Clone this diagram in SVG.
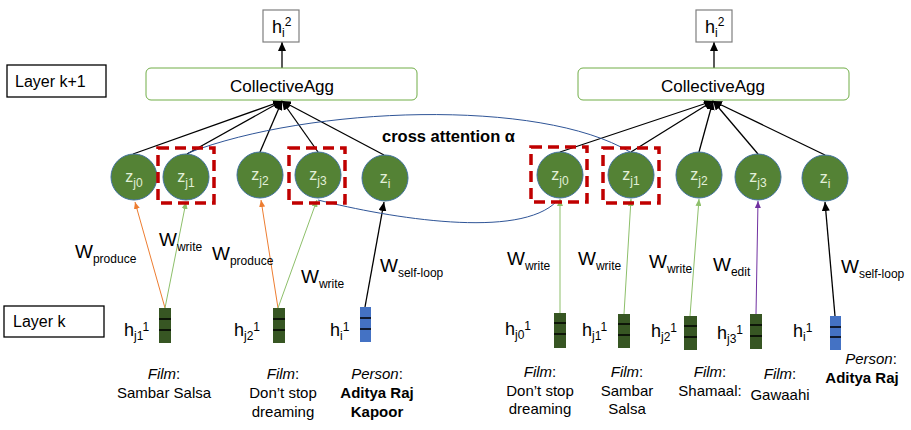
<svg xmlns="http://www.w3.org/2000/svg" width="911" height="430" viewBox="0 0 911 430">
<style>
text{font-family:"Liberation Sans",Arial,sans-serif;fill:#000}
.lbl{font-size:16px}
.agg{font-size:17px}
.w{font-size:19px}
.s{font-size:12px}
.h{font-size:18px}
.z{font-size:16px;fill:#E2F0D9}
.f{font-size:15px}
.b{font-weight:bold}
.it{font-style:italic}
.circ{fill:#548235;stroke:#41719C;stroke-width:1}
.dash{fill:none;stroke:#C00000;stroke-width:3.5;stroke-dasharray:11 6}
.aggbox{fill:#fff;stroke:#70AD47;stroke-width:1}
.hbox{fill:#fff;stroke:#7F7F7F;stroke-width:1.2}
.lbox{fill:#fff;stroke:#000;stroke-width:1.3}
.blk{stroke:#000;stroke-width:1.3;fill:none;marker-end:url(#ak)}
.org{stroke:#ED7D31;stroke-width:1;fill:none;marker-end:url(#ao)}
.grn{stroke:#8DBF6A;stroke-width:1;fill:none;marker-end:url(#ag)}
.pur{stroke:#7030A0;stroke-width:1;fill:none;marker-end:url(#ap)}
.att{stroke:#2F5597;stroke-width:1;fill:none}
.barg{fill:#375623}
.barb{fill:#4472C4}
.tick{stroke:#000;stroke-width:1.5}
</style>
<defs>
<marker id="ak" markerUnits="userSpaceOnUse" markerWidth="9" markerHeight="8" refX="9" refY="4" orient="auto"><path d="M0,0 L9,4 L0,8 z" fill="#000"/></marker>
<marker id="ao" markerUnits="userSpaceOnUse" markerWidth="7" markerHeight="6" refX="7" refY="3" orient="auto"><path d="M0,0 L7,3 L0,6 z" fill="#ED7D31"/></marker>
<marker id="ag" markerUnits="userSpaceOnUse" markerWidth="7" markerHeight="6" refX="7" refY="3" orient="auto"><path d="M0,0 L7,3 L0,6 z" fill="#8DBF6A"/></marker>
<marker id="ap" markerUnits="userSpaceOnUse" markerWidth="7" markerHeight="6" refX="7" refY="3" orient="auto"><path d="M0,0 L7,3 L0,6 z" fill="#7030A0"/></marker>
</defs>
<rect width="911" height="430" fill="#fff"/>

<g id="connectors">
<!-- left aggregation -->
<line class="blk" x1="282" y1="68" x2="282" y2="42"/>
<line class="blk" x1="133" y1="154" x2="282" y2="101"/>
<line class="blk" x1="187" y1="154" x2="282" y2="101"/>
<line class="blk" x1="260" y1="152" x2="282" y2="101"/>
<line class="blk" x1="318" y1="152" x2="282" y2="101"/>
<line class="blk" x1="384" y1="155" x2="282" y2="101"/>
<!-- right aggregation -->
<line class="blk" x1="714" y1="68" x2="714" y2="42"/>
<line class="blk" x1="560" y1="152" x2="713" y2="101"/>
<line class="blk" x1="631" y1="152" x2="713" y2="101"/>
<line class="blk" x1="699" y1="152" x2="713" y2="101"/>
<line class="blk" x1="758" y1="154" x2="713" y2="101"/>
<line class="blk" x1="825" y1="155" x2="713" y2="101"/>
<!-- left edges -->
<line class="org" x1="165" y1="308" x2="135" y2="202"/>
<line class="grn" x1="165" y1="308" x2="186" y2="202"/>
<line class="org" x1="278" y1="308" x2="261" y2="200"/>
<line class="grn" x1="278" y1="308" x2="317" y2="200"/>
<line class="blk" x1="365" y1="307" x2="384" y2="202"/>
<!-- right edges -->
<line class="grn" x1="560" y1="313" x2="560" y2="199"/>
<line class="grn" x1="624" y1="314" x2="631" y2="199"/>
<line class="grn" x1="690" y1="316" x2="699" y2="199"/>
<line class="pur" x1="756" y1="314" x2="758" y2="201"/>
<line class="blk" x1="835" y1="316" x2="825" y2="202"/>
<!-- cross attention -->
<path class="att" d="M188,153 C310,106 540,98 630,152"/>
<path class="att" d="M318,200 C390,218 520,240 557,201"/>
</g>

<g id="layer-k1"><rect class="lbox" x="7" y="65" width="99" height="32"/><text class="lbl" x="15" y="87">Layer k+1</text></g>
<g id="layer-k"><rect class="lbox" x="4" y="306" width="100" height="31"/><text class="lbl" x="13" y="327">Layer k</text></g>

<g id="h2-left"><rect class="hbox" x="263" y="10" width="36" height="32"/><text class="h" x="272" y="33">h<tspan class="s" dy="4">i</tspan><tspan class="s" dy="-11">2</tspan></text></g>
<g id="agg-left"><rect class="aggbox" x="146" y="68" width="271" height="32" rx="5"/><text class="agg" x="282" y="92" text-anchor="middle">CollectiveAgg</text></g>
<g id="h2-right"><rect class="hbox" x="696" y="10" width="36" height="32"/><text class="h" x="705" y="33">h<tspan class="s" dy="4">i</tspan><tspan class="s" dy="-11">2</tspan></text></g>
<g id="agg-right"><rect class="aggbox" x="578" y="68" width="271" height="32" rx="5"/><text class="agg" x="713" y="92" text-anchor="middle">CollectiveAgg</text></g>

<g id="cross-label"><text class="b" x="382" y="142" font-size="16.5">cross attention α</text></g>

<!-- left circles -->
<g id="zl-j0"><circle class="circ" cx="134" cy="177" r="23"/><text class="z" x="134" y="182" text-anchor="middle">z<tspan class="s" dy="5">j0</tspan></text></g>
<g id="zl-j1"><circle class="circ" cx="186" cy="177" r="23"/><rect class="dash" x="158" y="148" width="56" height="55"/><text class="z" x="186" y="182" text-anchor="middle">z<tspan class="s" dy="5">j1</tspan></text></g>
<g id="zl-j2"><circle class="circ" cx="260" cy="175" r="23"/><text class="z" x="260" y="180" text-anchor="middle">z<tspan class="s" dy="5">j2</tspan></text></g>
<g id="zl-j3"><circle class="circ" cx="318" cy="175" r="23"/><rect class="dash" x="289" y="148" width="56" height="55"/><text class="z" x="318" y="180" text-anchor="middle">z<tspan class="s" dy="5">j3</tspan></text></g>
<g id="zl-i"><circle class="circ" cx="385" cy="178" r="23"/><text class="z" x="385" y="183" text-anchor="middle">z<tspan class="s" dy="5">i</tspan></text></g>

<!-- right circles -->
<g id="zr-j0"><circle class="circ" cx="560" cy="175" r="23"/><rect class="dash" x="531" y="147" width="56" height="55"/><text class="z" x="560" y="180" text-anchor="middle">z<tspan class="s" dy="5">j0</tspan></text></g>
<g id="zr-j1"><circle class="circ" cx="631" cy="175" r="23"/><rect class="dash" x="603" y="148" width="56" height="55"/><text class="z" x="631" y="180" text-anchor="middle">z<tspan class="s" dy="5">j1</tspan></text></g>
<g id="zr-j2"><circle class="circ" cx="699" cy="175" r="23"/><text class="z" x="699" y="180" text-anchor="middle">z<tspan class="s" dy="5">j2</tspan></text></g>
<g id="zr-j3"><circle class="circ" cx="758" cy="177" r="23"/><text class="z" x="758" y="182" text-anchor="middle">z<tspan class="s" dy="5">j3</tspan></text></g>
<g id="zr-i"><circle class="circ" cx="825" cy="178" r="23"/><text class="z" x="825" y="183" text-anchor="middle">z<tspan class="s" dy="5">i</tspan></text></g>

<!-- edge labels -->
<g id="edge-labels">
<text class="w" x="75" y="258">W<tspan class="s" dy="5">produce</tspan></text>
<text class="w" x="159" y="246">W<tspan class="s" dy="5">write</tspan></text>
<text class="w" x="212" y="260">W<tspan class="s" dy="5">produce</tspan></text>
<text class="w" x="301" y="283">W<tspan class="s" dy="5">write</tspan></text>
<text class="w" x="380" y="272">W<tspan class="s" dy="5">self-loop</tspan></text>
<text class="w" x="507" y="265">W<tspan class="s" dy="5">write</tspan></text>
<text class="w" x="578" y="265">W<tspan class="s" dy="5">write</tspan></text>
<text class="w" x="649" y="268">W<tspan class="s" dy="5">write</tspan></text>
<text class="w" x="713" y="271">W<tspan class="s" dy="5">edit</tspan></text>
<text class="w" x="841" y="273">W<tspan class="s" dy="5">self-loop</tspan></text>
</g>

<!-- left layer-k nodes -->
<g id="hl-j1"><rect class="barg" x="159" y="308" width="12" height="35"/><line class="tick" x1="159" y1="319" x2="171" y2="319"/><line class="tick" x1="159" y1="330" x2="171" y2="330"/><text class="h" x="124" y="336">h<tspan class="s" dy="4">j1</tspan><tspan class="s" dy="-9">1</tspan></text>
<text class="f" x="164" y="379" text-anchor="middle"><tspan class="it">Film</tspan>:</text><text class="f" x="164" y="398" text-anchor="middle">Sambar Salsa</text></g>
<g id="hl-j2"><rect class="barg" x="273" y="308" width="12" height="35"/><line class="tick" x1="273" y1="319" x2="285" y2="319"/><line class="tick" x1="273" y1="330" x2="285" y2="330"/><text class="h" x="234" y="336">h<tspan class="s" dy="4">j2</tspan><tspan class="s" dy="-9">1</tspan></text>
<text class="f" x="283" y="379" text-anchor="middle"><tspan class="it">Film</tspan>:</text><text class="f" x="283" y="398" text-anchor="middle">Don’t stop</text><text class="f" x="283" y="417" text-anchor="middle">dreaming</text></g>
<g id="hl-i"><rect class="barb" x="360" y="307" width="11" height="35"/><line class="tick" x1="360" y1="318" x2="371" y2="318"/><line class="tick" x1="360" y1="329" x2="371" y2="329"/><text class="h" x="330" y="336">h<tspan class="s" dy="4">i</tspan><tspan class="s" dy="-9">1</tspan></text>
<text class="f" x="377" y="379" text-anchor="middle"><tspan class="it">Person</tspan>:</text><text class="f b" x="377" y="398" text-anchor="middle">Aditya Raj</text><text class="f b" x="377" y="417" text-anchor="middle">Kapoor</text></g>

<!-- right layer-k nodes -->
<g id="hr-j0"><rect class="barg" x="554" y="313" width="12" height="35"/><line class="tick" x1="554" y1="323" x2="566" y2="323"/><line class="tick" x1="554" y1="334" x2="566" y2="334"/><text class="h" x="505" y="335">h<tspan class="s" dy="4">j0</tspan><tspan class="s" dy="-9">1</tspan></text>
<text class="f" x="540" y="377" text-anchor="middle"><tspan class="it">Film</tspan>:</text><text class="f" x="540" y="396" text-anchor="middle">Don’t stop</text><text class="f" x="540" y="414" text-anchor="middle">dreaming</text></g>
<g id="hr-j1"><rect class="barg" x="618" y="314" width="12" height="34"/><line class="tick" x1="618" y1="324" x2="630" y2="324"/><line class="tick" x1="618" y1="335" x2="630" y2="335"/><text class="h" x="582" y="336">h<tspan class="s" dy="4">j1</tspan><tspan class="s" dy="-9">1</tspan></text>
<text class="f" x="627" y="377" text-anchor="middle"><tspan class="it">Film</tspan>:</text><text class="f" x="627" y="396" text-anchor="middle">Sambar</text><text class="f" x="627" y="414" text-anchor="middle">Salsa</text></g>
<g id="hr-j2"><rect class="barg" x="684" y="316" width="13" height="34"/><line class="tick" x1="684" y1="326" x2="697" y2="326"/><line class="tick" x1="684" y1="337" x2="697" y2="337"/><text class="h" x="651" y="337">h<tspan class="s" dy="4">j2</tspan><tspan class="s" dy="-9">1</tspan></text>
<text class="f" x="710" y="377" text-anchor="middle"><tspan class="it">Film</tspan>:</text><text class="f" x="710" y="396" text-anchor="middle">Shamaal:</text></g>
<g id="hr-j3"><rect class="barg" x="750" y="314" width="12" height="35"/><line class="tick" x1="750" y1="325" x2="762" y2="325"/><line class="tick" x1="750" y1="336" x2="762" y2="336"/><text class="h" x="717" y="339">h<tspan class="s" dy="4">j3</tspan><tspan class="s" dy="-9">1</tspan></text>
<text class="f" x="780" y="379" text-anchor="middle"><tspan class="it">Film</tspan>:</text><text class="f" x="780" y="400" text-anchor="middle">Gawaahi</text></g>
<g id="hr-i"><rect class="barb" x="830" y="316" width="11" height="34"/><line class="tick" x1="830" y1="327" x2="841" y2="327"/><line class="tick" x1="830" y1="337" x2="841" y2="337"/><text class="h" x="793" y="337">h<tspan class="s" dy="4">i</tspan><tspan class="s" dy="-9">1</tspan></text>
<text class="f" x="871" y="364" text-anchor="middle"><tspan class="it">Person</tspan>:</text><text class="f b" x="862" y="383" text-anchor="middle">Aditya Raj</text></g>
</svg>
